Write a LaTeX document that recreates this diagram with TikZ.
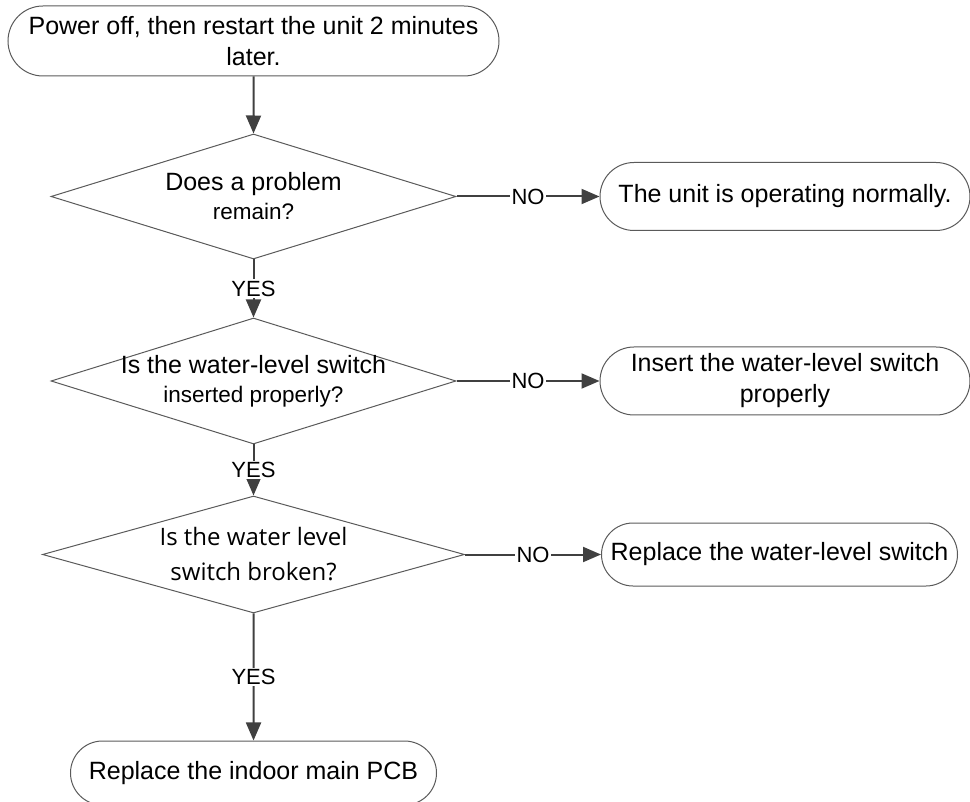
\documentclass[tikz,border=0pt]{standalone}
\usepackage{fontspec}
\setmainfont{Liberation Sans}
\newfontfamily\qfont{Open Sans}
\usetikzlibrary{positioning,shapes.geometric,shapes.misc,arrows.meta}
\definecolor{outl}{HTML}{5A5A5A}
\definecolor{conn}{HTML}{404040}

\begin{document}
\begin{tikzpicture}[x=1pt, y=1pt,
    term/.style = {draw=outl, line width=1pt, rounded rectangle, align=center, inner sep=0pt, font=\fontsize{25}{31}\selectfont},
    dec/.style = {draw=outl, line width=1pt, diamond, inner sep=0pt},
    ask/.style = {align=center, inner sep=0pt, font=\fontsize{25}{29}\selectfont},
    flow/.style = {draw=conn, line width=2pt, -{Triangle[length=18pt, width=15pt]}},
    ans/.style = {fill=white, inner sep=1.5pt, font=\fontsize{22}{26}\selectfont}]
    \useasboundingbox (0,0) rectangle (970,-802);
    \node[term, minimum width=491pt, minimum height=70pt] (start) at (253.5,-41) {Power off, then restart the unit 2 minutes\\later.};
    \node[dec, minimum width=405pt, minimum height=125pt, below=57pt of start,
          label={[ask]center:{Does a problem\\{\fontsize{22.5}{28}\selectfont remain?}}}] (q1) {};
    \node[dec, minimum width=405pt, minimum height=126pt, below=58pt of q1,
          label={[ask]center:{Is the water-level switch\\{\fontsize{22.5}{30}\selectfont inserted properly?}}}] (q2) {};
    \node[dec, minimum width=422pt, minimum height=117pt, below=51pt of q2,
          label={[ask, font=\qfont\fontsize{24}{35}\selectfont]center:{Is the water level\\switch broken?}}] (q3) {};
    \node[term, minimum width=366pt, minimum height=64pt, below=127pt of q3] (pcb) {Replace the indoor main PCB};
    \node[term, minimum width=370pt, minimum height=68pt, right=143pt of q1] (ok) {The unit is operating normally.};
    \node[term, minimum width=370pt, minimum height=68pt, right=143pt of q2] (insert) {Insert the water-level switch\\properly};
    \node[term, minimum width=356pt, minimum height=63pt, right=136pt of q3] (swap) {Replace the water-level switch};
    \draw[flow] (start) -- (q1);
    \draw[flow] (q1) -- node[ans] {YES} (q2);
    \draw[flow] (q2) -- node[ans] {YES} (q3);
    \draw[flow] (q3) -- node[ans] {YES} (pcb);
    \draw[flow] (q1) -- node[ans] {NO} (ok);
    \draw[flow] (q2) -- node[ans] {NO} (insert);
    \draw[flow] (q3) -- node[ans] {NO} (swap);
\end{tikzpicture}
\end{document}
